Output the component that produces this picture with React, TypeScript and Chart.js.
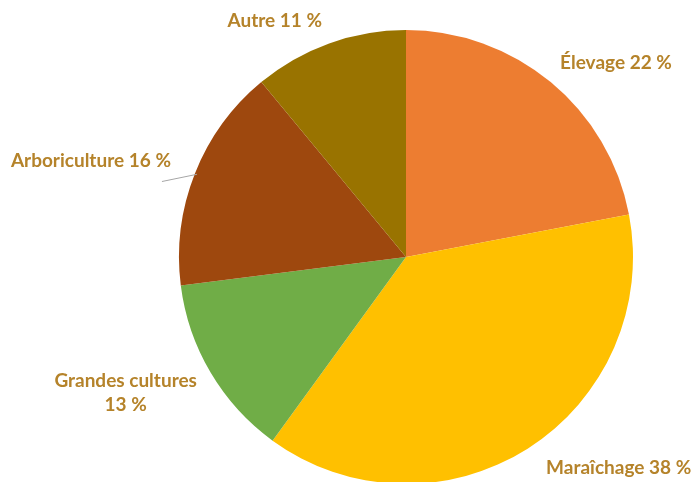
import React, { useEffect, useRef } from "react";
import { Chart, registerables } from "chart.js";

Chart.register(...registerables);

const categories = ["Élevage", "Maraîchage", "Grandes cultures", "Arboriculture", "Autre"];
const values = [22, 38, 13, 16, 11];
const colors = ["#ED7D31", "#FFC000", "#70AD47", "#9E480E", "#997300"];
// label text lines
const labelLines = [
  ["Élevage 22 %"],
  ["Maraîchage 38 %"],
  ["Grandes cultures", "13 %"],
  ["Arboriculture 16 %"],
  ["Autre 11 %"],
];
// label centre offsets from pie centre, in units of radius
const labelOffsets = [
  [0.925, -0.855],
  [0.937, 0.93],
  [-1.235, 0.6],
  [-1.388, -0.425],
  [-0.578, -1.042],
];

const labelPlugin = {
  id: "pieLabels",
  afterDatasetsDraw(chart: any) {
    const ctx = chart.ctx;
    const meta = chart.getDatasetMeta(0);
    ctx.save();
    ctx.font = "bold 19px Lato, 'Open Sans', sans-serif";
    ctx.fillStyle = "#B5832A";
    ctx.textAlign = "center";
    ctx.textBaseline = "middle";
    meta.data.forEach((arc: any, i: number) => {
      const { x, y, outerRadius } = arc.getProps(["x", "y", "outerRadius"], true);
      const cx = x + labelOffsets[i][0] * outerRadius;
      const cy = y + labelOffsets[i][1] * outerRadius;
      const lines = labelLines[i];
      const lh = 24;
      lines.forEach((t, j) => {
        ctx.fillText(t, cx, cy + (j - (lines.length - 1) / 2) * lh);
      });
      if (i === 3) {
        // leader line from label to slice
        const mid = (arc.startAngle + arc.endAngle) / 2;
        const ex = x + Math.cos(mid) * outerRadius * 0.99;
        const ey = y + Math.sin(mid) * outerRadius * 0.99;
        ctx.strokeStyle = "#A6A6A6";
        ctx.lineWidth = 1;
        ctx.beginPath();
        ctx.moveTo(cx + 71, cy + 21);
        ctx.lineTo(ex, ey);
        ctx.stroke();
      }
    });
    ctx.restore();
  },
};

export default function App() {
  const ref = useRef<HTMLCanvasElement>(null);
  useEffect(() => {
    document.body.style.margin = "0";
    document.body.style.overflow = "hidden";
    const chart = new Chart(ref.current!, {
      type: "pie",
      data: {
        labels: categories,
        datasets: [
          {
            data: values,
            backgroundColor: colors,
            borderWidth: 0,
          },
        ],
      },
      options: {
        animation: false,
        responsive: false,
        devicePixelRatio: 1,
        layout: { padding: { left: 179, right: 60, top: 30, bottom: 6 } },
        plugins: {
          legend: { display: false },
          tooltip: { enabled: false },
        },
      },
      plugins: [labelPlugin],
    });
    return () => chart.destroy();
  }, []);
  return (
    <div style={{ position: "fixed", left: 0, top: 0, width: 693, height: 482, overflow: "hidden", background: "#fff" }}>
      <canvas ref={ref} width={693} height={490} style={{ width: 693, height: 490, display: "block" }} />
    </div>
  );
}
